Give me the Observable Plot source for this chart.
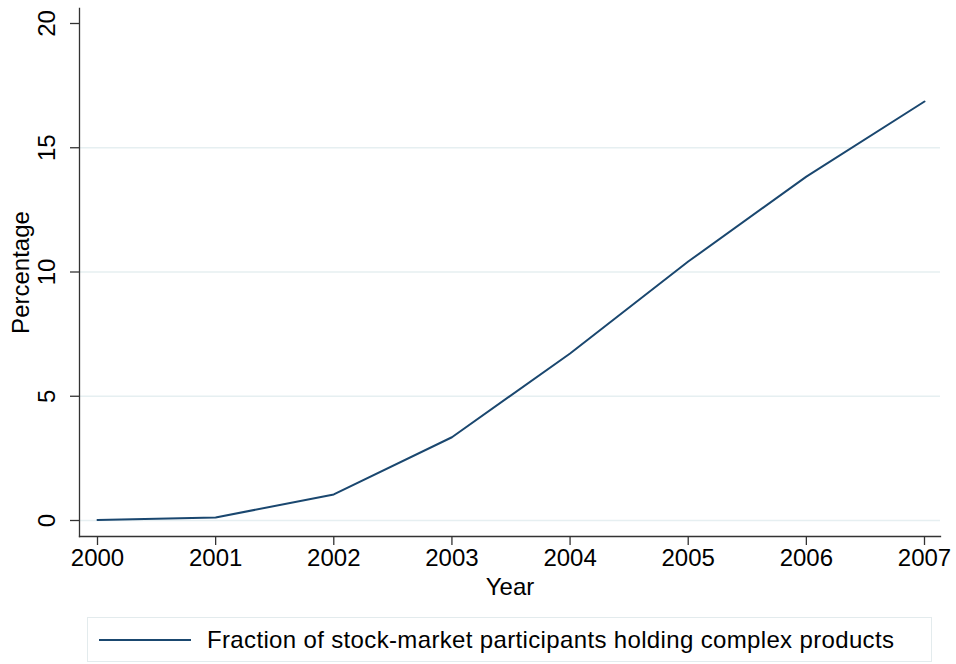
<!DOCTYPE html>
<html>
<head>
<meta charset="utf-8">
<script src="https://cdn.jsdelivr.net/npm/d3@7"></script>
<script src="https://cdn.jsdelivr.net/npm/@observablehq/plot@0.6"></script>
<style>
  body { margin: 0; background: #fff; font-family: "Liberation Sans", Arial, sans-serif; }
  #legend { position: relative; margin-left: 87px; margin-top: 17px; width: 843px; height: 43px; border: 1px solid #e3ebed; box-sizing: content-box; }
  #legend .swatch { position: absolute; left: 11px; top: 21px; width: 92px; height: 2px; background: #1a476f; }
  #legend .label { position: absolute; left: 119px; top: 0; line-height: 43px; font-size: 24px; letter-spacing: 0.35px; color: #000; white-space: nowrap; }
</style>
</head>
<body>
<div id="chart"></div>
<div id="legend"><span class="swatch"></span><span class="label">Fraction of stock-market participants holding complex products</span></div>
<script>
const years = [2000, 2001, 2002, 2003, 2004, 2005, 2006, 2007];
const fraction = [0.02, 0.12, 1.05, 3.35, 6.72, 10.42, 13.84, 16.86];
const yTicks = [0, 5, 10, 15, 20];
const gridTicks = [0, 5, 10, 15];
const xLabel = "Year";
const yLabel = "Percentage";

const data = years.map((y, i) => ({year: y, value: fraction[i]}));

const chart = Plot.plot({
  width: 956,
  height: 600,
  marginLeft: 79,
  marginRight: 16,
  marginTop: 8,
  marginBottom: 64,
  style: {fontFamily: "Liberation Sans, Arial, sans-serif", color: "#000", background: "#fff"},
  x: {domain: [2000, 2007], insetLeft: 18, insetRight: 16},
  y: {domain: [0, 20], insetTop: 15, insetBottom: 16},
  marks: [
    Plot.gridY(gridTicks, {stroke: "#e6eff1", strokeOpacity: 1, strokeWidth: 1.5}),
    Plot.frame({anchor: "left", stroke: "#333", strokeWidth: 1.3}),
    Plot.frame({anchor: "bottom", stroke: "#333", strokeWidth: 1.3}),
    Plot.axisX(years, {tickSize: 9, tickPadding: 3, fontSize: 24, tickFormat: d => String(d), label: null, stroke: "#333", strokeWidth: 1.3}),
    Plot.axisY(yTicks, {tickSize: 9, text: null, label: null, stroke: "#333", strokeWidth: 1.3}),
    Plot.text(yTicks, {y: d => d, text: d => String(d), frameAnchor: "left", dx: -32, rotate: -90, textAnchor: "middle", lineAnchor: "middle", fontSize: 24, fill: "#000"}),
    Plot.text([xLabel], {text: d => d, frameAnchor: "bottom", dy: 51, textAnchor: "middle", lineAnchor: "middle", fontSize: 24, fill: "#000"}),
    Plot.text([yLabel], {text: d => d, frameAnchor: "left", dx: -58, rotate: -90, textAnchor: "middle", lineAnchor: "middle", fontSize: 24, fill: "#000"}),
    Plot.line(data, {x: "year", y: "value", stroke: "#1a476f", strokeWidth: 2})
  ]
});
document.getElementById("chart").appendChild(chart);
</script>
</body>
</html>
